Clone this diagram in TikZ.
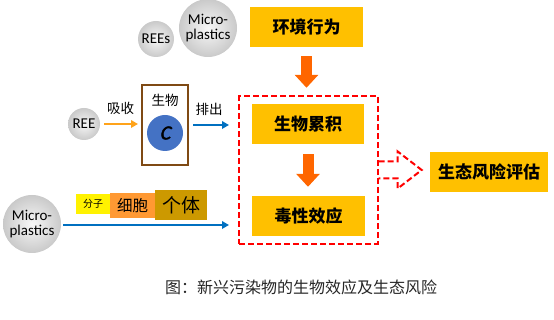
\documentclass[tikz,border=0pt]{standalone}
\usepackage{fontspec}
\setmainfont{Carlito}
\newfontfamily\cjk{Noto Sans CJK SC}
\newfontfamily\concfont[FakeSlant=0.22,FakeBold=2]{Carlito}
\usepackage{tikz}
\usetikzlibrary{arrows.meta,calc,fit}
\definecolor{boxyel}{HTML}{FFC000}
\definecolor{flowor}{HTML}{FF6600}
\definecolor{uptake}{HTML}{FFA31A}
\definecolor{outblue}{HTML}{0070C0}
\definecolor{cblue}{HTML}{4472C4}
\definecolor{orgbrown}{HTML}{7F4A14}
\definecolor{cellor}{HTML}{FF9933}
\definecolor{indgold}{HTML}{CC9900}
\newcommand{\fs}[1]{\fontsize{#1}{#1}\selectfont}

\begin{document}
\begin{tikzpicture}[x=1pt,y=-1pt,
  stage/.style={fill=boxyel,minimum width=113pt,minimum height=40pt,inner sep=0pt,font=\cjk\bfseries\fs{17}},
  pollut/.style={circle,inner sep=0pt,align=center,inner color=gray!6,outer color=gray!42,font=\fs{15}},
  bigarrow/.style={flowor,line width=11pt,-{Triangle[length=13pt,width=23pt]}},
  thinarrow/.style={line width=2.2pt,-{Triangle[length=7pt,width=7.5pt]}},
  grpline/.style={red,line width=2pt,dash pattern=on 6pt off 3pt},
  level/.style={inner sep=0pt,font=\cjk}]
  \useasboundingbox (0,0) rectangle (554,320);
  % pollutants
  \node[pollut,minimum size=36pt] (rees) at (156,39) {REEs};
  \node[pollut,minimum size=58pt] (mptop) at (208,28) {Micro-\\plastics};
  \node[pollut,minimum size=32pt] (ree) at (84,124) {REE};
  \node[pollut,minimum size=58pt] (mpbot) at (32,224) {Micro-\\plastics};
  % organism
  \node[draw=orgbrown,line width=2pt,minimum width=46pt,minimum height=80pt,inner sep=0pt] (org) at (165,125) {};
  \node[font=\cjk\fs{13.5}] (orgtxt) at (165,100) {生物};
  \node[circle,fill=cblue,text=black,minimum size=36pt,inner sep=0pt,font=\concfont\fs{20}] (conc) at (165,133) {C};
  \draw[thinarrow,uptake,shorten <=4pt,shorten >=3pt] (ree) -- (ree -| org.west) node[midway,above=5pt,black,font=\cjk\fs{13.5}] (upt) {吸收};
  \coordinate (outend) at (229,125);
  \draw[thinarrow,outblue,shorten <=4pt] (org.east |- outend) -- (outend) node[midway,above=5pt,black,font=\cjk\fs{13.5}] (exc) {排出};
  % levels
  \node[level,fill=yellow,minimum width=34pt,minimum height=20pt,font=\cjk\fs{10}] (mol) at (93,204) {分子};
  \node[level,fill=cellor,minimum width=45pt,minimum height=25pt,font=\cjk\fs{15.5}] (cell) at (132.5,205.5) {细胞};
  \node[level,fill=indgold,minimum width=52pt,minimum height=30pt,font=\cjk\fs{19}] (ind) at (181,205) {个体};
  \coordinate (mpend) at (229,225);
  \draw[thinarrow,outblue,shorten <=2pt] (mpbot.east |- mpend) -- (mpend);
  % stages
  \node[stage] (env) at (306.5,27) {环境行为};
  \node[stage,minimum width=112pt] (acc) at (308,124) {生物累积};
  \node[stage] (tox) at (308.5,216) {毒性效应};
  \node[stage,minimum width=118pt] (risk) at (489,172) {生态风险评估};
  \draw[bigarrow,shorten <=9pt,shorten >=16pt] (env) -- (env |- acc.north);
  \draw[bigarrow,shorten <=10pt,shorten >=9pt] (acc) -- (acc |- tox.north);
  \node[fit=(acc)(tox),inner xsep=12.5pt,inner ysep=7.5pt,grpline,draw] (grp) {};
  \draw[grpline,line join=miter]
    (grp.east) ++(0,-8.5) -- ++(19,0) -- ++(0,-10) -- ++(24,18.5) -- ++(-24,18.5) -- ++(0,-10) -- ++(-19,0);
  \node[font=\cjk\fs{16},text=black!85] (cap) at (301,287) {图：新兴污染物的生物效应及生态风险};
\end{tikzpicture}
\end{document}
